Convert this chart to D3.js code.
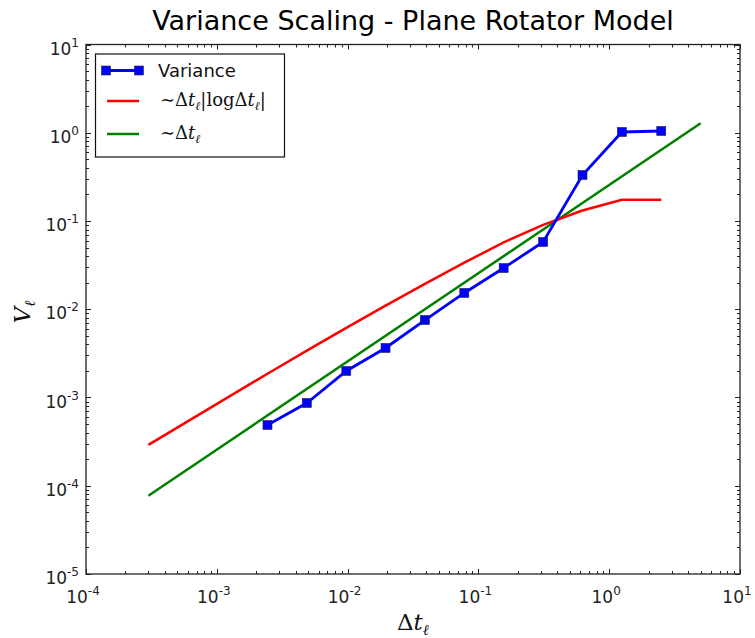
<!DOCTYPE html>
<html><head><meta charset="utf-8">
<script src="https://cdn.jsdelivr.net/npm/d3@7"></script>
<style>body{margin:0;background:#fff}svg{display:block}</style>
</head><body>
<svg id="c" width="755" height="638"></svg>
<script>
const title = "Variance Scaling - Plane Rotator Model";
const varX = [0.00244, 0.00488, 0.00977, 0.0195, 0.039, 0.078, 0.156, 0.3125, 0.625, 1.25, 2.5];
const varY = [4.88e-4, 8.67e-4, 2.0e-3, 3.64e-3, 7.55e-3, 1.53e-2, 2.93e-2, 5.78e-2, 0.332, 1.02, 1.047];
const redX = [3e-4, 0.00244, 0.00488, 0.00977, 0.0195, 0.039, 0.078, 0.156, 0.3125, 0.625, 1.25, 2.5];
const redY = [2.9e-4, 1.86e-3, 3.40e-3, 6.15e-3, 0.0110, 0.0194, 0.0337, 0.0572, 0.0905, 0.1315, 0.174, 0.174];
const greenX = [3e-4, 5];
const greenY = [7.7e-5, 1.28];
const xDecades = [-4, -3, -2, -1, 0, 1];
const yDecades = [-5, -4, -3, -2, -1, 0, 1];

const svg = d3.select("#c");
const L = 86, R = 740, T = 44.5, B = 574;
const x = d3.scaleLog().domain([1e-4, 1e1]).range([L, R]);
const y = d3.scaleLog().domain([1e-5, 1e1]).range([B, T]);

// ticks
const tg = svg.append("g").attr("stroke", "#222").attr("stroke-width", 1);
const isMajor = v => Math.abs(Math.log10(v) - Math.round(Math.log10(v))) < 1e-9;
x.ticks().forEach(v => {
  const len = isMajor(v) ? 5 : 3, px = Math.round(x(v)) + 0.5;
  tg.append("line").attr("x1", px).attr("x2", px).attr("y1", B).attr("y2", B - len);
  tg.append("line").attr("x1", px).attr("x2", px).attr("y1", T).attr("y2", T + len);
});
y.ticks().forEach(v => {
  const len = isMajor(v) ? 5 : 3, py = Math.round(y(v)) + 0.5;
  tg.append("line").attr("y1", py).attr("y2", py).attr("x1", L).attr("x2", L + len);
  tg.append("line").attr("y1", py).attr("y2", py).attr("x1", R).attr("x2", R - len);
});

// tick labels
const lf = "'DejaVu Sans', sans-serif";
xDecades.forEach(d => {
  const t = svg.append("text").attr("x", x(Math.pow(10, d)) - 3).attr("y", 603)
    .attr("text-anchor", "middle").attr("font-family", lf).attr("font-size", 17).attr("fill", "#222");
  t.append("tspan").text("10");
  t.append("tspan").attr("dy", -8).attr("font-size", 12).text(String(d));
});
yDecades.forEach(d => {
  const t = svg.append("text").attr("x", 79).attr("y", y(Math.pow(10, d)) + 10)
    .attr("text-anchor", "end").attr("font-family", lf).attr("font-size", 17).attr("fill", "#222");
  t.append("tspan").text("10");
  t.append("tspan").attr("dy", -8).attr("font-size", 12).text(String(d));
});

// lines
const line = d3.line().x(d => x(d[0])).y(d => y(d[1]));
const plot = svg.append("g");
plot.append("path").datum(d3.zip(greenX, greenY)).attr("d", line)
  .attr("fill", "none").attr("stroke", "#008000").attr("stroke-width", 2.5);
plot.append("path").datum(d3.zip(redX, redY)).attr("d", line)
  .attr("fill", "none").attr("stroke", "#ff0000").attr("stroke-width", 2.5);
plot.append("path").datum(d3.zip(varX, varY)).attr("d", line)
  .attr("fill", "none").attr("stroke", "#0000ff").attr("stroke-width", 2.8);
plot.selectAll("rect.m").data(d3.zip(varX, varY)).enter().append("rect")
  .attr("x", d => x(d[0]) - 4.5).attr("y", d => y(d[1]) - 4.5)
  .attr("width", 9).attr("height", 9)
  .attr("fill", "#0000ff").attr("stroke", "#222244").attr("stroke-width", 0.6);

// frame
svg.append("rect").attr("x", L).attr("y", T).attr("width", R - L).attr("height", B - T)
  .attr("fill", "none").attr("stroke", "#222").attr("stroke-width", 1.3);

// legend
const lg = svg.append("g");
lg.append("rect").attr("x", 95.5).attr("y", 54).attr("width", 189).attr("height", 103)
  .attr("fill", "#fff").attr("stroke", "#111").attr("stroke-width", 1.2);
lg.append("line").attr("x1", 106).attr("x2", 139).attr("y1", 70.5).attr("y2", 70.5)
  .attr("stroke", "#0000ff").attr("stroke-width", 2.8);
[106, 139].forEach(px => lg.append("rect").attr("x", px - 4.5).attr("y", 66).attr("width", 9).attr("height", 9)
  .attr("fill", "#0000ff").attr("stroke", "#222244").attr("stroke-width", 0.6));
lg.append("text").attr("x", 158).attr("y", 76.5).attr("font-family", lf).attr("font-size", 18)
  .attr("fill", "#111").text("Variance");
lg.append("line").attr("x1", 107).attr("x2", 139).attr("y1", 101).attr("y2", 101)
  .attr("stroke", "#ff0000").attr("stroke-width", 2.5);
lg.append("line").attr("x1", 107).attr("x2", 139).attr("y1", 134).attr("y2", 134)
  .attr("stroke", "#008000").attr("stroke-width", 2.5);
const sf = "'DejaVu Serif', 'Liberation Serif', serif";
function dt(t) {
  t.append("tspan").text("Δ");
  t.append("tspan").attr("font-style", "italic").text("t");
  t.append("tspan").attr("font-style", "italic").attr("font-size", 12).attr("dy", 4).text("ℓ");
}
const t1 = lg.append("text").attr("x", 160).attr("y", 106).attr("font-family", sf).attr("font-size", 18).attr("fill", "#111");
t1.append("tspan").text("∼");
dt(t1);
t1.append("tspan").attr("dy", -4).text("|log");
dt(t1);
t1.append("tspan").attr("dy", -4).text("|");
const t2 = lg.append("text").attr("x", 160).attr("y", 139).attr("font-family", sf).attr("font-size", 18).attr("fill", "#111");
t2.append("tspan").text("∼");
dt(t2);

// title
svg.append("text").attr("x", (L + R) / 2).attr("y", 30).attr("text-anchor", "middle")
  .attr("font-family", lf).attr("font-size", 27).attr("fill", "#000").text(title);

// axis labels
const xl = svg.append("text").attr("x", (L + R) / 2).attr("y", 630).attr("text-anchor", "middle")
  .attr("font-family", sf).attr("font-size", 23).attr("fill", "#111");
xl.append("tspan").text("Δ");
xl.append("tspan").attr("font-style", "italic").text("t");
xl.append("tspan").attr("font-style", "italic").attr("font-size", 15).attr("dy", 5).text("ℓ");
const yl = svg.append("text").attr("transform", "translate(30,312) rotate(-90)").attr("text-anchor", "middle")
  .attr("font-family", sf).attr("font-size", 23).attr("fill", "#111");
yl.append("tspan").attr("font-style", "italic").text("V");
yl.append("tspan").attr("font-style", "italic").attr("font-size", 15).attr("dy", 5).text("ℓ");
</script>
</body></html>
